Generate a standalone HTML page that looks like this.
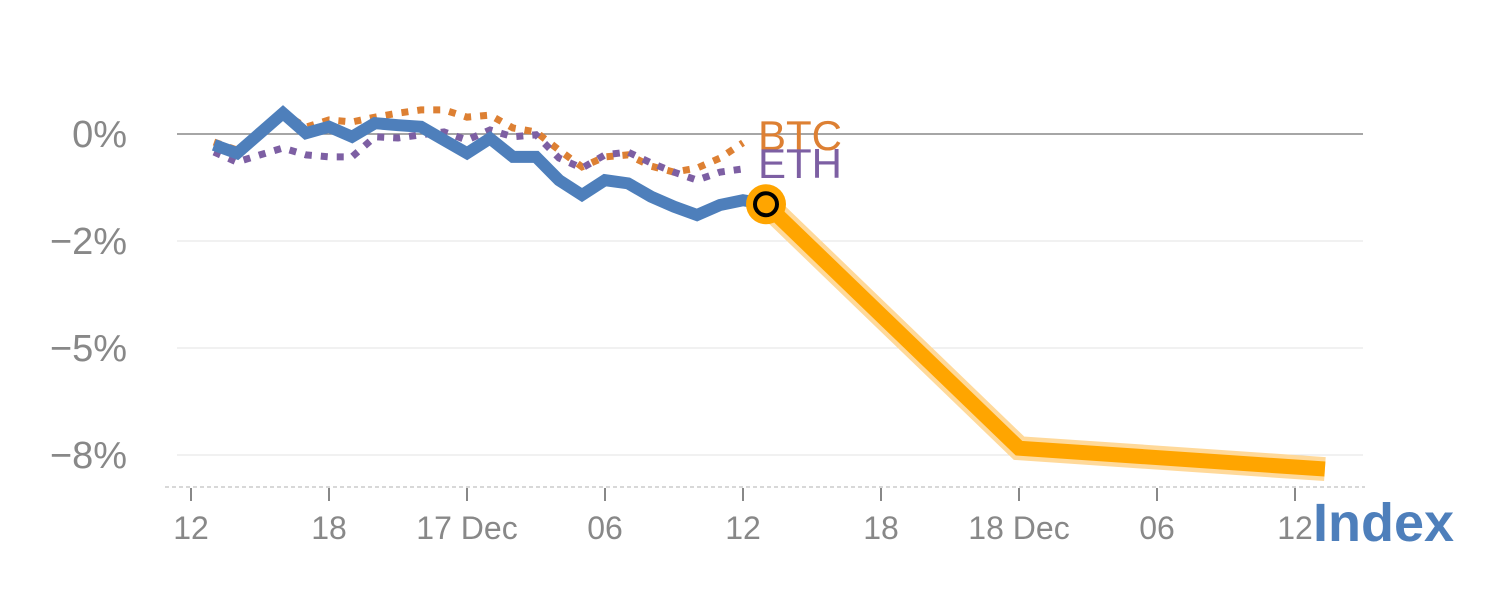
<!DOCTYPE html>
<html><head><meta charset="utf-8"><style>
body{margin:0;background:#fff;}
svg{display:block;font-family:"Liberation Sans",sans-serif;}
</style></head><body>
<svg id="chart" width="1500" height="600"></svg>
<script>
const yTickValues=[0,-2.667,-5.333,-8];
const yTickLabels=["0%","\u22122%","\u22125%","\u22128%"];
const xTickHours=[0,6,12,18,24,30,36,42,48];
const xTickLabels=["12","18","17 Dec","06","12","18","18 Dec","06","12"];
const indexHours=[1,2,3,4,5,6,7,8,9,10,11,12,13,14,15,16,17,18,19,20,21,22,23,24,25];
const indexValues=[-0.27,-0.48,0.02,0.52,0.02,0.18,-0.07,0.27,0.22,0.18,-0.15,-0.48,-0.11,-0.57,-0.57,-1.15,-1.52,-1.15,-1.23,-1.56,-1.81,-2.02,-1.77,-1.65,-1.75];
const btcHours=[1,2,3,4,5,6,7,8,9,10,11,12,13,14,15,16,17,18,19,20,21,22,23,24];
const btcValues=[-0.20,-0.40,-0.02,0.52,0.17,0.35,0.30,0.42,0.52,0.60,0.60,0.42,0.47,0.15,0.05,-0.40,-0.82,-0.57,-0.52,-0.80,-0.95,-0.85,-0.60,-0.22];
const ethValues=[-0.45,-0.70,-0.52,-0.35,-0.52,-0.57,-0.57,-0.07,-0.10,-0.02,0.05,-0.15,0.10,-0.07,-0.02,-0.60,-0.85,-0.52,-0.45,-0.72,-0.95,-1.15,-0.95,-0.87];
const forecastHours=[25,36,49.3];
const forecastValues=[-1.75,-7.83,-8.35];

const NS="http://www.w3.org/2000/svg";
const svg=document.getElementById('chart');
const X=h=>191+23*h;
const Y=v=>134-v*40.125;
function mk(tag,attrs,parent){const e=document.createElementNS(NS,tag);for(const k in attrs)e.setAttribute(k,attrs[k]);(parent||svg).appendChild(e);return e;}

yTickValues.forEach((v,i)=>{
  const g=mk('line',{x1:177,x2:1363,y1:Y(v),y2:Y(v),stroke:i===0?'#888':'#e3e3e3','stroke-width':i===0?1.5:1});
  
  
  const t=mk('text',{x:127,y:Y(v)+13,'text-anchor':'end','font-size':38,fill:'#888'});
  t.textContent=yTickLabels[i];
  
  
});
const ax=mk('line',{x1:165,x2:1365,y1:487,y2:487,stroke:'#ccc','stroke-width':1.5,'stroke-dasharray':'4 3'});


xTickHours.forEach((h,i)=>{
  const l=mk('line',{x1:X(h),x2:X(h),y1:488,y2:501,stroke:'#888','stroke-width':2});
  
  
  const t=mk('text',{x:X(h),y:539,'text-anchor':'middle','font-size':32,fill:'#888'});
  t.textContent=xTickLabels[i];
  
  
});
function pts(hs,vs){return hs.map((h,i)=>X(h)+','+Y(vs[i])).join(' ');}
const btc=mk('polyline',{points:pts(btcHours,btcValues),fill:'none',stroke:'#dd8033','stroke-width':7,'stroke-dasharray':'7 9'});


const eth=mk('polyline',{points:pts(btcHours,ethValues),fill:'none',stroke:'#7d5fa3','stroke-width':7,'stroke-dasharray':'7 9'});


const idx=mk('polyline',{points:pts(indexHours,indexValues),fill:'none',stroke:'#4e7fbb','stroke-width':12,'stroke-linejoin':'miter'});


const fg=mk('polyline',{points:pts(forecastHours,forecastValues),fill:'none',stroke:'#ffd99a','stroke-width':24});


const fl=mk('polyline',{points:pts(forecastHours,forecastValues),fill:'none',stroke:'#ffa500','stroke-width':15});


const cx=X(forecastHours[0]),cy=Y(forecastValues[0]);
const c1=mk('circle',{cx:cx,cy:cy,r:20,fill:'#ffa500'});


const c2=mk('circle',{cx:cx,cy:cy,r:11,fill:'#ffa500',stroke:'#000','stroke-width':4});


const lb=mk('text',{x:758,y:150,'font-size':42,fill:'#dd8033'});lb.textContent='BTC';


const le=mk('text',{x:758,y:178,'font-size':42,fill:'#7d5fa3'});le.textContent='ETH';


const li=mk('text',{x:1313,y:541,'font-size':54,'font-weight':'bold',fill:'#4e7fbb'});li.textContent='Index';


</script>
</body></html>
